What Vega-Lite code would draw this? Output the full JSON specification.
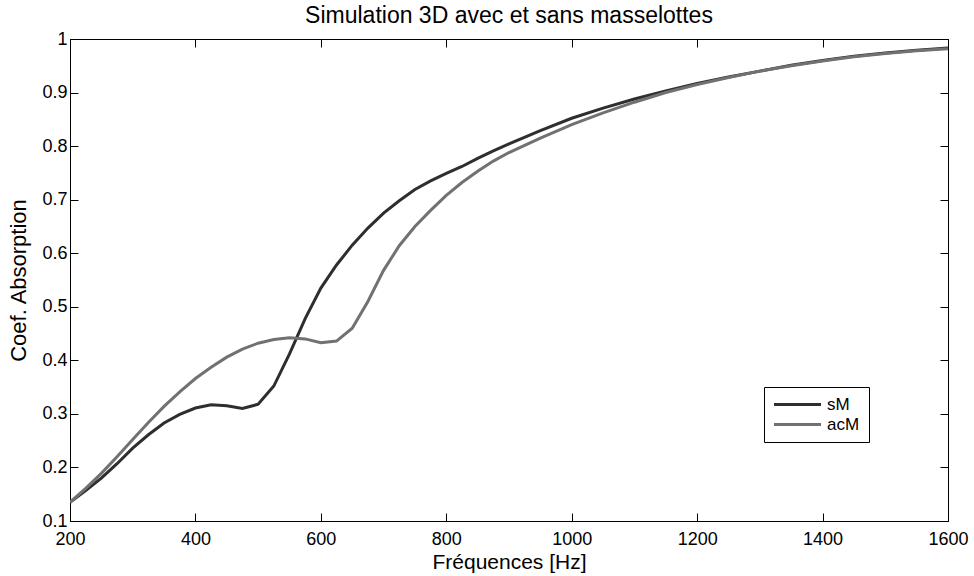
{
  "$schema": "https://vega.github.io/schema/vega-lite/v6.json",
  "autosize": "none",
  "width": 878,
  "height": 482,
  "padding": {"left": 70, "top": 39, "right": 26, "bottom": 55},
  "background": "white",
  "title": {"text": "Simulation 3D avec et sans masselottes", "font": "Liberation Sans", "fontSize": 23, "fontWeight": "normal", "color": "black", "offset": 2},
  "config": {
    "view": {"stroke": "black", "strokeWidth": 1},
    "axis": {"labelFont": "Liberation Sans", "titleFont": "Liberation Sans", "labelFontSize": 18, "titleFontSize": 21, "titleFontWeight": "normal", "labelColor": "black", "titleColor": "black", "domainColor": "black", "tickColor": "black", "grid": false, "tickSize": -8, "labelFlush": false, "labelOverlap": false}
  },
  "data": {"values": [
    {"f":200,"v":0.135,"s":"sM"},{"f":225,"v":0.157,"s":"sM"},{"f":250,"v":0.180,"s":"sM"},{"f":275,"v":0.207,"s":"sM"},{"f":300,"v":0.236,"s":"sM"},{"f":325,"v":0.261,"s":"sM"},{"f":350,"v":0.283,"s":"sM"},{"f":375,"v":0.299,"s":"sM"},{"f":400,"v":0.311,"s":"sM"},{"f":425,"v":0.317,"s":"sM"},{"f":450,"v":0.315,"s":"sM"},{"f":475,"v":0.310,"s":"sM"},{"f":500,"v":0.318,"s":"sM"},{"f":525,"v":0.352,"s":"sM"},{"f":550,"v":0.412,"s":"sM"},{"f":575,"v":0.478,"s":"sM"},{"f":600,"v":0.535,"s":"sM"},{"f":625,"v":0.578,"s":"sM"},{"f":650,"v":0.615,"s":"sM"},{"f":675,"v":0.647,"s":"sM"},{"f":700,"v":0.675,"s":"sM"},{"f":725,"v":0.698,"s":"sM"},{"f":750,"v":0.719,"s":"sM"},{"f":775,"v":0.735,"s":"sM"},{"f":800,"v":0.749,"s":"sM"},{"f":825,"v":0.762,"s":"sM"},{"f":850,"v":0.777,"s":"sM"},{"f":875,"v":0.791,"s":"sM"},{"f":900,"v":0.804,"s":"sM"},{"f":950,"v":0.829,"s":"sM"},{"f":1000,"v":0.852,"s":"sM"},{"f":1050,"v":0.871,"s":"sM"},{"f":1100,"v":0.888,"s":"sM"},{"f":1150,"v":0.903,"s":"sM"},{"f":1200,"v":0.917,"s":"sM"},{"f":1250,"v":0.929,"s":"sM"},{"f":1300,"v":0.940,"s":"sM"},{"f":1350,"v":0.951,"s":"sM"},{"f":1400,"v":0.960,"s":"sM"},{"f":1450,"v":0.968,"s":"sM"},{"f":1500,"v":0.974,"s":"sM"},{"f":1550,"v":0.979,"s":"sM"},{"f":1600,"v":0.983,"s":"sM"},
    {"f":200,"v":0.135,"s":"acM"},{"f":225,"v":0.161,"s":"acM"},{"f":250,"v":0.189,"s":"acM"},{"f":275,"v":0.220,"s":"acM"},{"f":300,"v":0.252,"s":"acM"},{"f":325,"v":0.284,"s":"acM"},{"f":350,"v":0.314,"s":"acM"},{"f":375,"v":0.341,"s":"acM"},{"f":400,"v":0.366,"s":"acM"},{"f":425,"v":0.387,"s":"acM"},{"f":450,"v":0.406,"s":"acM"},{"f":475,"v":0.421,"s":"acM"},{"f":500,"v":0.432,"s":"acM"},{"f":525,"v":0.439,"s":"acM"},{"f":550,"v":0.442,"s":"acM"},{"f":575,"v":0.440,"s":"acM"},{"f":600,"v":0.433,"s":"acM"},{"f":625,"v":0.436,"s":"acM"},{"f":650,"v":0.460,"s":"acM"},{"f":675,"v":0.510,"s":"acM"},{"f":700,"v":0.568,"s":"acM"},{"f":725,"v":0.614,"s":"acM"},{"f":750,"v":0.650,"s":"acM"},{"f":775,"v":0.680,"s":"acM"},{"f":800,"v":0.708,"s":"acM"},{"f":825,"v":0.732,"s":"acM"},{"f":850,"v":0.753,"s":"acM"},{"f":875,"v":0.772,"s":"acM"},{"f":900,"v":0.788,"s":"acM"},{"f":950,"v":0.815,"s":"acM"},{"f":1000,"v":0.840,"s":"acM"},{"f":1050,"v":0.862,"s":"acM"},{"f":1100,"v":0.882,"s":"acM"},{"f":1150,"v":0.900,"s":"acM"},{"f":1200,"v":0.915,"s":"acM"},{"f":1250,"v":0.928,"s":"acM"},{"f":1300,"v":0.940,"s":"acM"},{"f":1350,"v":0.950,"s":"acM"},{"f":1400,"v":0.959,"s":"acM"},{"f":1450,"v":0.967,"s":"acM"},{"f":1500,"v":0.973,"s":"acM"},{"f":1550,"v":0.978,"s":"acM"},{"f":1600,"v":0.982,"s":"acM"}
  ]},
  "layer": [
    {
      "mark": {"type": "line", "strokeWidth": 3, "clip": true},
      "encoding": {
        "x": {"field": "f", "type": "quantitative", "scale": {"domain": [200, 1600], "nice": false, "zero": false},
          "axis": {"title": "Fréquences [Hz]", "values": [200,400,600,800,1000,1200,1400,1600], "format": "d", "labelPadding": 17, "titlePadding": 3}},
        "y": {"field": "v", "type": "quantitative", "scale": {"domain": [0.1, 1], "nice": false, "zero": false},
          "axis": {"title": "Coef. Absorption", "titleFontSize": 22, "values": [0.1,0.2,0.3,0.4,0.5,0.6,0.7,0.8,0.9,1], "format": "~g", "labelPadding": 11, "titlePadding": 11}},
        "color": {"field": "s", "type": "nominal", "sort": ["sM", "acM"],
          "scale": {"domain": ["sM", "acM"], "range": ["#2e2e2e", "#717171"]},
          "legend": {"title": null, "orient": "none", "legendX": 694, "legendY": 348, "direction": "vertical",
            "strokeColor": "black", "fillColor": "white", "padding": 9,
            "labelFont": "Liberation Sans", "labelFontSize": 17, "labelColor": "black", "labelOffset": 21,
            "symbolType": "M-4.7,0H4.7", "symbolSize": 100, "symbolOffset": 16, "symbolStrokeWidth": 3, "rowPadding": 2}}
      }
    },
    {
      "mark": {"type": "line", "opacity": 0},
      "encoding": {
        "x": {"field": "f", "type": "quantitative", "axis": {"orient": "top", "title": null, "labels": false, "values": [200,400,600,800,1000,1200,1400,1600]}},
        "y": {"field": "v", "type": "quantitative", "axis": {"orient": "right", "title": null, "labels": false, "values": [0.1,0.2,0.3,0.4,0.5,0.6,0.7,0.8,0.9,1]}}
      }
    }
  ],
  "resolve": {"axis": {"x": "independent", "y": "independent"}}
}
